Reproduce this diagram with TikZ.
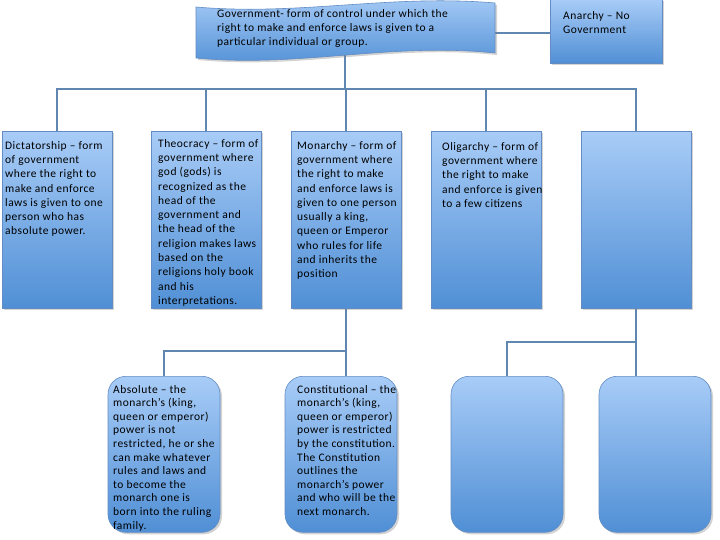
\documentclass[tikz,border=0pt]{standalone}
\usepackage{fontspec}
\setmainfont{Carlito}[LetterSpace=4]
\usetikzlibrary{shadows,backgrounds}
\definecolor{boxtop}{RGB}{168,204,247}
\definecolor{boxbot}{RGB}{80,143,213}
\definecolor{boxline}{RGB}{98,140,195}
\definecolor{linkc}{RGB}{96,134,178}
\begin{document}
\begin{tikzpicture}[x=1pt, y=-1pt,
    box/.style = {rectangle, draw=boxline, line width=.6pt, top color=boxtop, bottom color=boxbot,
      drop shadow={shadow xshift=2pt, shadow yshift=-2pt, opacity=.35}, inner sep=0pt,
      minimum width=110pt, minimum height=177pt, anchor=north},
    rbox/.style = {box, rounded corners=18pt, minimum width=112pt, minimum height=156pt},
    txt/.style = {anchor=north west, align=left, inner sep=0pt, font=\fontsize{11.5}{14.3}\selectfont},
    rtxt/.style = {txt, font=\fontsize{11.5}{13.6}\selectfont},
    link/.style = {draw=linkc, line width=2.2pt}]
      \useasboundingbox (0,0) rectangle (720,540);
      % top: wave shape
      \path[box] (196,7) .. controls (300,16) and (390,-6) .. (495,3) -- (495,53)
        .. controls (390,42) and (300,68) .. (196,58) -- cycle;
      \node [txt] (gov) at (217,9) {Government- form of control under which the\\right to make and enforce laws is given to a\\particular individual or group.};
      \coordinate (govb) at (345,50);
      \coordinate (govr) at (493,33);
      \node [box, minimum width=112pt, minimum height=64pt] (anarchy) at (606,-1) {};
      \node [txt] (tanarchy) at (563,11) {Anarchy – No\\Government};
      % first row
      \node [box] (dict) at (57,131) {};
      \node [box] (theo) at (206,131) {};
      \node [box] (mon) at (346,131) {};
      \node [box] (olig) at (486,131) {};
      \node [box] (blank) at (636,131) {};
      \node [txt] (tdict) at (5,141) {Dictatorship – form\\of government\\where the right to\\make and enforce\\laws is given to one\\person who has\\absolute power.};
      \node [txt] (ttheo) at (158,139) {Theocracy – form of\\government where\\god (gods) is\\recognized as the\\head of the\\government and\\the head of the\\religion makes laws\\based on the\\religions holy book\\and his\\interpretations.};
      \node [txt] (tmon) at (297,141) {Monarchy – form of\\government where\\the right to make\\and enforce laws is\\given to one person\\usually a king,\\queen or Emperor\\who rules for life\\and inherits the\\position};
      \node [txt] (tolig) at (442,142) {Oligarchy – form of\\government where\\the right to make\\and enforce is given\\to a few citizens};
      % second row
      \node [rbox] (abso) at (164,376) {};
      \node [rbox] (cons) at (341,376) {};
      \node [rbox] (blanka) at (507,376) {};
      \node [rbox] (blankb) at (655,376) {};
      \node [rtxt] (tabso) at (113,385) {Absolute – the\\monarch’s (king,\\queen or emperor)\\power is not\\restricted, he or she\\can make whatever\\rules and laws and\\to become the\\monarch one is\\born into the ruling\\family.};
      \node [rtxt] (tcons) at (297,385) {Constitutional – the\\monarch’s (king,\\queen or emperor)\\power is restricted\\by the constitution.\\The Constitution\\outlines the\\monarch’s power\\and who will be the\\next monarch.};
      % connectors
      \coordinate (bar) at (345,89);
      \coordinate (mbar) at (346,351);
      \coordinate (rbar) at (636,342);
      \begin{scope}[on background layer]
        \draw[link] (govr) -- (anarchy.west |- govr);
        \draw[link] (govb) -- (bar);
        \draw[link] (dict.north) |- (bar) -| (blank.north);
        \draw[link] (theo.north) -- (theo.north |- bar);
        \draw[link] (mon.north) -- (mon.north |- bar);
        \draw[link] (olig.north) -- (olig.north |- bar);
        \draw[link] (mon.south) -- (mon.south |- cons.north);
        \draw[link] (mbar) -| (abso.north);
        \draw[link] (blank.south) -- (blank.south |- blankb.north);
        \draw[link] (rbar) -| (blanka.north);
      \end{scope}
    \end{tikzpicture}
\end{document}
